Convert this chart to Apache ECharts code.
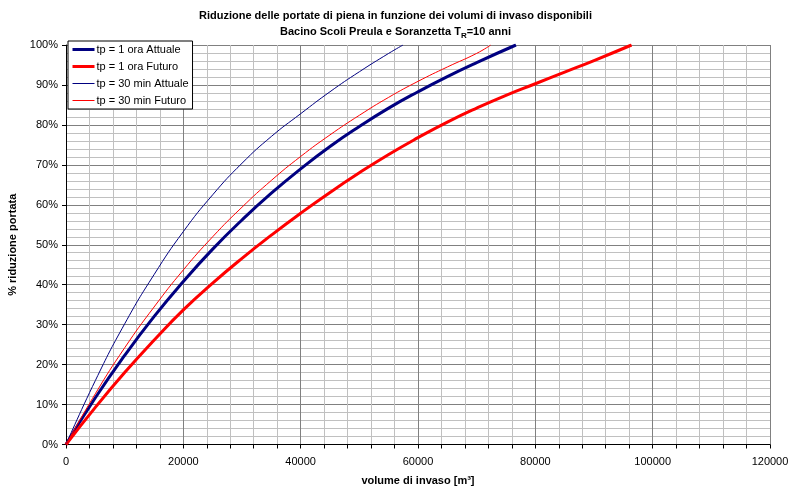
<!DOCTYPE html>
<html>
<head>
<meta charset="utf-8">
<script src="https://cdn.jsdelivr.net/npm/echarts@6/dist/echarts.min.js"></script>
<style>
  html, body { margin: 0; padding: 0; background: #fff; }
  #chart { width: 791px; height: 486px; }
</style>
</head>
<body>
<div id="chart"></div>
<script>
// volumi [m3] e % riduzione portata
var vol1hAttuale = [0, 5000, 10000, 15000, 20000, 25000, 30000, 35000, 40000, 45000, 50000, 55000, 60000, 65000, 70000, 76700];
var pct1hAttuale = [0, 11.7, 22.3, 32.0, 40.8, 48.9, 56.2, 62.9, 69.0, 74.6, 79.6, 84.2, 88.3, 92.1, 95.6, 100];

var vol1hFuturo = [0, 5000, 10000, 15000, 20000, 25000, 30000, 35000, 40000, 45000, 50000, 55000, 60000, 65000, 70000, 75000, 80000, 85000, 90000, 96400];
var pct1hFuturo = [0, 9.3, 18.0, 26.1, 33.7, 40.4, 46.6, 52.4, 57.9, 63.1, 68.0, 72.6, 76.8, 80.7, 84.2, 87.4, 90.3, 93.2, 96.1, 100];

var vol30Attuale = [0, 5000, 10000, 15000, 20000, 25000, 30000, 35000, 40000, 45000, 50000, 55000, 57450];
var pct30Attuale = [0, 16.0, 30.2, 42.5, 53.3, 62.5, 70.4, 77.1, 82.8, 88.3, 93.3, 97.9, 100];

var vol30Futuro = [0, 5000, 10000, 15000, 20000, 25000, 30000, 35000, 40000, 45000, 50000, 55000, 60000, 65000, 70000, 72400];
var pct30Futuro = [0, 12.7, 24.2, 34.4, 43.7, 52.0, 59.4, 66.1, 72.1, 77.5, 82.4, 86.9, 90.9, 94.5, 97.9, 100];

var xTicks = [0, 20000, 40000, 60000, 80000, 100000, 120000];
var yTicks = [0, 10, 20, 30, 40, 50, 60, 70, 80, 90, 100];

function pairs(xs, ys) {
  var out = [];
  for (var i = 0; i < xs.length; i++) out.push([xs[i], ys[i]]);
  return out;
}

var font = "'Liberation Sans', Arial, sans-serif";
var navy = "#000080";
var red = "#ff0000";
var myChart = echarts.init(document.getElementById("chart"));

var option = {
  animation: false,
  backgroundColor: "#fff",
  title: {
    text: "Riduzione delle portate di piena in funzione dei volumi di invaso disponibili\nBacino Scoli Preula e Soranzetta T{sub|R}=10 anni",
    left: "center",
    top: 3,
    textStyle: {
      fontFamily: font,
      fontSize: 11,
      fontWeight: "bold",
      color: "#000",
      lineHeight: 16,
      rich: {
        sub: { fontFamily: font, fontSize: 8, fontWeight: "bold", color: "#000", verticalAlign: "bottom", lineHeight: 12 }
      }
    }
  },
  legend: {
    orient: "vertical",
    left: 68,
    top: 41,
    backgroundColor: "#fff",
    borderColor: "#000",
    borderWidth: 1,
    padding: [3, 4, 3, 3],
    itemGap: 6,
    itemWidth: 22,
    itemHeight: 13,
    itemStyle: { opacity: 0, borderWidth: 0 },
    lineStyle: { width: "inherit", color: "inherit" },
    textStyle: { fontFamily: font, fontSize: 11, color: "#000", padding: [0, 0, 0, -3] },
    data: ["tp = 1 ora Attuale", "tp = 1 ora Futuro", "tp = 30 min Attuale", "tp = 30 min Futuro"]
  },
  grid: { left: 66, right: 21, top: 45, bottom: 41.5, outerBoundsMode: "none" },
  xAxis: {
    type: "value",
    min: xTicks[0],
    max: xTicks[xTicks.length - 1],
    interval: 20000,
    name: "volume di invaso [m³]",
    nameLocation: "middle",
    nameGap: 31,
    nameTextStyle: { fontFamily: font, fontSize: 11, fontWeight: "bold", color: "#000" },
    axisLine: { lineStyle: { color: "#000", width: 1 } },
    axisTick: { show: true, length: 4, lineStyle: { color: "#000" } },
    minorTick: { show: true, splitNumber: 5, length: 4, lineStyle: { color: "#000" } },
    axisLabel: { fontFamily: font, fontSize: 11, color: "#000", margin: 12, formatter: function (v) { return String(v); } },
    splitLine: { show: true, lineStyle: { color: "#808080", width: 1 } },
    minorSplitLine: { show: true, lineStyle: { color: "#c0c0c0", width: 1 } }
  },
  yAxis: {
    type: "value",
    min: yTicks[0],
    max: yTicks[yTicks.length - 1],
    interval: 10,
    name: "% riduzione portata",
    nameLocation: "middle",
    nameGap: 41,
    nameRotate: 90,
    nameTextStyle: { fontFamily: font, fontSize: 11, fontWeight: "bold", color: "#000" },
    axisLine: { show: true, lineStyle: { color: "#000", width: 1 } },
    axisTick: { show: true, length: 4, lineStyle: { color: "#000" } },
    minorTick: { show: false, splitNumber: 5 },
    axisLabel: { fontFamily: font, fontSize: 11, color: "#000", margin: 8, formatter: "{value}%" },
    splitLine: { show: true, lineStyle: { color: "#808080", width: 1 } },
    minorSplitLine: { show: true, lineStyle: { color: "#c0c0c0", width: 1 } }
  },
  series: [
    {
      name: "tp = 1 ora Attuale",
      type: "line",
      smooth: true,
      symbol: "none",
      color: navy,
      lineStyle: { color: navy, width: 3 },
      data: pairs(vol1hAttuale, pct1hAttuale)
    },
    {
      name: "tp = 1 ora Futuro",
      type: "line",
      smooth: true,
      symbol: "none",
      color: red,
      lineStyle: { color: red, width: 3 },
      data: pairs(vol1hFuturo, pct1hFuturo)
    },
    {
      name: "tp = 30 min Attuale",
      type: "line",
      smooth: true,
      symbol: "none",
      color: navy,
      lineStyle: { color: navy, width: 1 },
      data: pairs(vol30Attuale, pct30Attuale)
    },
    {
      name: "tp = 30 min Futuro",
      type: "line",
      smooth: true,
      symbol: "none",
      color: red,
      lineStyle: { color: red, width: 1 },
      data: pairs(vol30Futuro, pct30Futuro)
    }
  ]
};

myChart.setOption(option);
window.addEventListener("resize", function () { myChart.resize(); });
</script>
</body>
</html>
